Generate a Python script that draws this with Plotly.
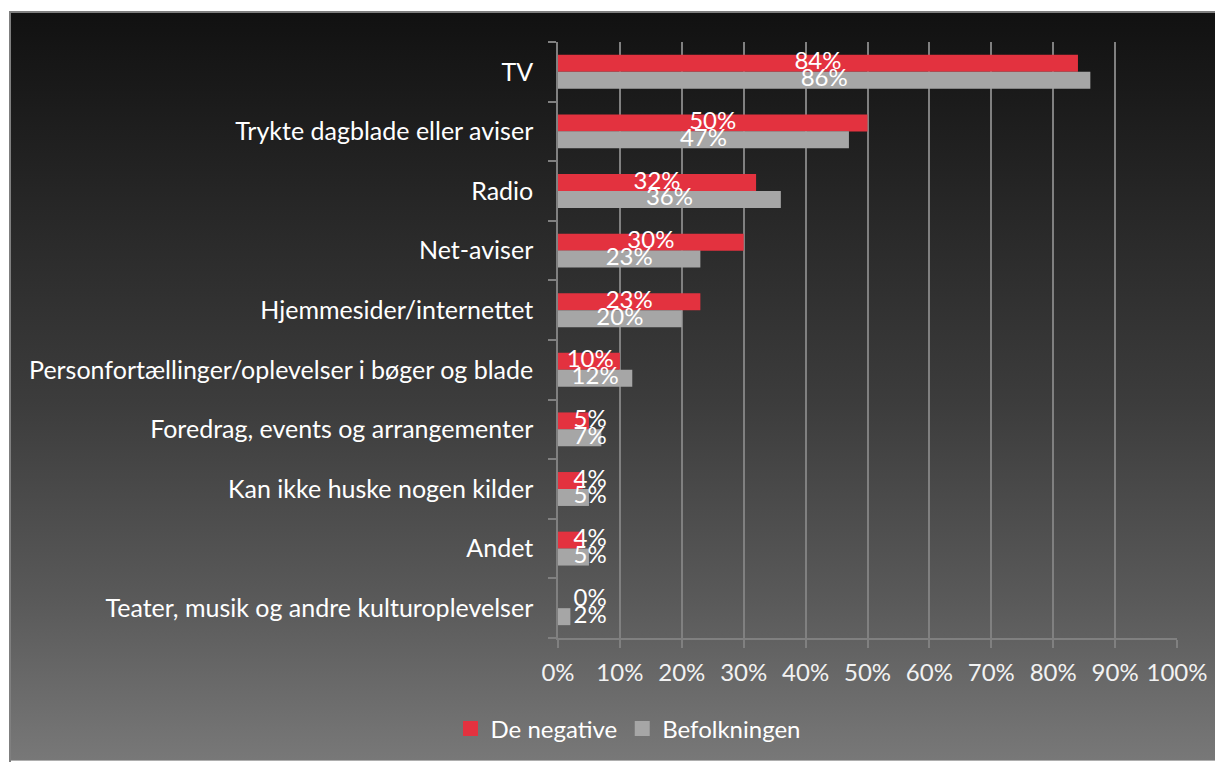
import base64
import plotly.graph_objects as go

categories = [
    "TV",
    "Trykte dagblade eller aviser",
    "Radio",
    "Net-aviser",
    "Hjemmesider/internettet",
    "Personfortællinger/oplevelser i bøger og blade",
    "Foredrag, events og arrangementer",
    "Kan ikke huske nogen kilder",
    "Andet",
    "Teater, musik og andre kulturoplevelser",
]
de_negative = [84, 50, 32, 30, 23, 10, 5, 4, 4, 0]
befolkningen = [86, 47, 36, 23, 20, 12, 7, 5, 5, 2]
series_names = ["De negative", "Befolkningen"]

red = "#e3323f"
grey = "#a6a6a6"
line_grey = "#808080"
font = "Lato"

n = len(categories)
pos = [n - 1 - i for i in range(n)]  # TV at the top
off = 0.142
bar_w = 0.285

# label centres: middle of the bar, pushed right for short bars
def label_x(vals):
    return [max(v / 2, 5.2) for v in vals]

fig = go.Figure()
for name, vals, sign, col in ((series_names[0], de_negative, 1, red),
                              (series_names[1], befolkningen, -1, grey)):
    ys = [p + sign * off for p in pos]
    fig.add_trace(go.Bar(
        name=name, orientation="h", x=vals, y=ys, width=bar_w,
        marker=dict(color=col, line=dict(width=0)), showlegend=False,
    ))
    fig.add_trace(go.Scatter(
        x=label_x(vals), y=ys, mode="text",
        text=[f"{v}%" for v in vals], textposition="middle center",
        textfont=dict(color="white", size=24, family=font),
        showlegend=False, hoverinfo="skip", cliponaxis=False,
    ))
    # legend entry with a bigger square swatch
    fig.add_trace(go.Scatter(
        name=name, x=[None], y=[None], mode="markers",
        marker=dict(symbol="square", size=15, color=col),
    ))

# background gradient (dark top -> grey bottom)
svg = (
    '<svg xmlns="http://www.w3.org/2000/svg" width="100" height="100" preserveAspectRatio="none">'
    '<defs><linearGradient id="g" x1="0" y1="0" x2="0" y2="1">'
    '<stop offset="0" stop-color="#111111"/>'
    '<stop offset="0.25" stop-color="#262626"/>'
    '<stop offset="0.52" stop-color="#3c3c3c"/>'
    '<stop offset="0.79" stop-color="#5a5a5a"/>'
    '<stop offset="1" stop-color="#787878"/>'
    '</linearGradient></defs>'
    '<rect width="100" height="100" fill="url(#g)"/></svg>'
)
src = "data:image/svg+xml;base64," + base64.b64encode(svg.encode()).decode()

# the page body has an 8px margin, so the figure is drawn 8px smaller
W, H = 1215, 754
ml, mr, mt, mb = 550, 46, 34, 123
pw, ph = W - ml - mr, H - mt - mb

def px_x(x):
    return (x - ml) / pw

def px_y(y):
    return (H - mb - y) / ph

fig.add_layout_image(
    source=src, xref="paper", yref="paper",
    x=px_x(2), y=px_y(4), sizex=(W - 2) / pw, sizey=(H - 4) / ph,
    xanchor="left", yanchor="top", sizing="stretch", layer="below",
)
fig.add_shape(type="rect", xref="paper", yref="paper",
              x0=px_x(2), x1=px_x(W + 5), y0=px_y(H + 5), y1=px_y(4),
              line=dict(color="#7f7f7f", width=2), layer="below")

fig.update_layout(
    width=W, height=H,
    margin=dict(l=ml, r=mr, t=mt, b=mb),
    paper_bgcolor="white", plot_bgcolor="rgba(0,0,0,0)",
    barmode="overlay",
    font=dict(family=font, size=24, color="white"),
    legend=dict(orientation="h", x=px_x(620), y=px_y(721),
                xanchor="center", yanchor="middle",
                itemwidth=30, tracegroupgap=0,
                font=dict(size=24, color="white", family=font),
                bgcolor="rgba(0,0,0,0)"),
)
fig.update_xaxes(
    range=[0, 100], dtick=10, ticksuffix="%",
    showgrid=True, gridcolor=line_grey, gridwidth=1.5,
    showline=True, linecolor=line_grey, linewidth=1.5,
    ticks="outside", ticklen=8, tickcolor=line_grey, tickwidth=1.5,
    ticklabelstandoff=4,
    zeroline=False, tickfont=dict(color="#f2f2f2", size=24, family=font),
)
fig.update_yaxes(
    range=[-0.5, n - 0.5], tickvals=pos, ticktext=categories,
    ticks="", showgrid=False, zeroline=False,
    showline=True, linecolor=line_grey, linewidth=1.5,
    ticklabelstandoff=18,
    minor=dict(tick0=0.5, dtick=1, ticks="outside", ticklen=8,
               tickcolor=line_grey, tickwidth=1.5, showgrid=False),
    tickfont=dict(color="white", size=25, family=font),
)

fig.write_html("out.html")
